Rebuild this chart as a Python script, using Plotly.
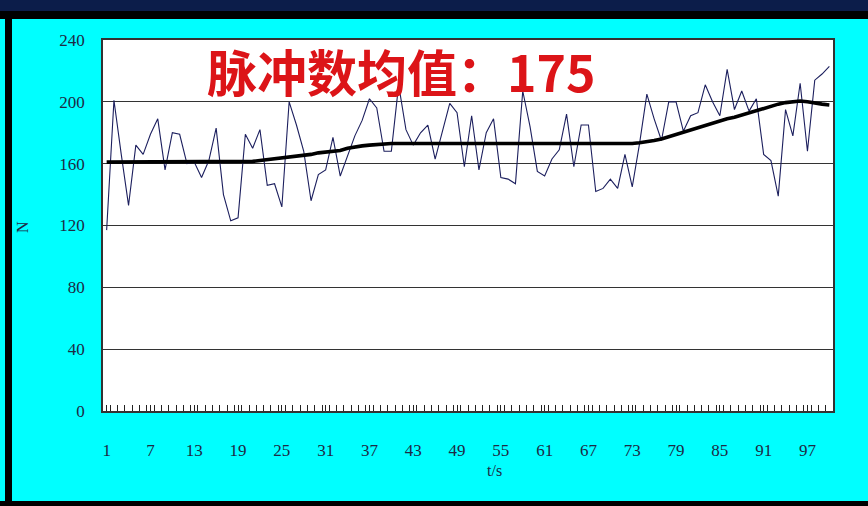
import plotly.graph_objects as go

t_seconds = list(range(1, 101))

pulse_counts = [
    117, 201, 166, 133, 172, 166, 179, 189, 156, 180,
    179, 160, 161, 151, 162, 183, 140, 123, 125, 179,
    170, 182, 146, 147, 132, 200, 185, 168, 136, 153,
    156, 177, 152, 165, 178, 188, 202, 196, 168, 168,
    211, 182, 172, 180, 185, 163, 182, 199, 193, 158,
    191, 156, 180, 189, 151, 150, 147, 207, 184, 155,
    152, 163, 169, 192, 158, 185, 185, 142, 144, 150,
    144, 166, 145, 173, 205, 189, 175, 200, 200, 181,
    191, 193, 211, 200, 191, 221, 195, 207, 194, 202,
    166, 162, 139, 195, 178, 212, 168, 214, 218, 223,
]

trend_values = [
    161, 161, 161, 161, 161, 161, 161, 161, 161, 161,
    161, 161, 161, 161, 161, 161, 161, 161, 161, 161,
    161.5, 162, 162.5, 163, 163.5, 164, 164.5, 165.5, 166, 167,
    167.5, 168, 168.5, 170, 171, 171.5, 172, 172.5, 173, 173,
    173, 173, 173, 173, 173, 173, 173, 173, 173, 173,
    173, 173, 173, 173, 173, 173, 173, 172.5, 172.5, 172.5,
    172.5, 172.5, 172.5, 172.5, 172.5, 172.5, 172.5, 172.5, 172.5, 172.5,
    172.5, 172.5, 173, 173.5, 174, 175, 176, 177.5, 179, 180.5,
    182, 183.5, 185, 186, 187.5, 189, 190, 191.5, 192.5, 194,
    195.5, 197, 198.5, 199.5, 200, 200.5, 200, 199, 198.5, 198,
]

x_tick_values = [1, 7, 13, 19, 25, 31, 37, 43, 49, 55, 61, 67, 73, 79, 85, 91, 97]
y_tick_values = [0, 40, 80, 120, 160, 200, 240]

title_text = "脉冲数均值：175"
x_title = "t/s"
y_title = "N"

W, H = 868, 506
L, R, T, B = 103, 833, 40, 411


def px(x):
    return (x - L) / (R - L)


def py(y):
    return (B - y) / (B - T)


fig = go.Figure()
fig.add_trace(go.Scatter(
    x=t_seconds, y=pulse_counts, mode="lines",
    line=dict(color="#1c1f5e", width=1.1), hoverinfo="skip", showlegend=False,
))
fig.add_trace(go.Scatter(
    x=t_seconds, y=trend_values, mode="lines",
    line=dict(color="#000000", width=3.6), hoverinfo="skip", showlegend=False,
))

tick_font = dict(family="Liberation Serif, DejaVu Serif, serif", size=17, color="#1e2a44")

fig.update_layout(
    width=W, height=H, autosize=False,
    margin=dict(l=L, r=W - R, t=T, b=H - B, pad=0),
    paper_bgcolor="#00ffff",
    plot_bgcolor="#ffffff",
    showlegend=False,
    xaxis=dict(
        range=[0.5, 100.5], tickvals=x_tick_values,
        ticktext=[str(v) for v in x_tick_values],
        ticks="inside", ticklen=6, tickwidth=1, tickcolor="#222222",
        minor=dict(ticks="inside", dtick=1, tick0=0.5, ticklen=6, tickwidth=1, tickcolor="#222222"),
        showgrid=False, zeroline=False,
        showline=True, linecolor="#333333", linewidth=1.5, mirror=True,
        tickfont=tick_font, ticklabelstandoff=23,
    ),
    yaxis=dict(
        range=[0, 240], tickvals=y_tick_values,
        showgrid=True, gridcolor="#333333", gridwidth=1.2,
        zeroline=False, ticks="",
        showline=True, linecolor="#333333", linewidth=1.5, mirror=True,
        tickfont=tick_font, ticklabelstandoff=13,
    ),
)

shapes = [
    dict(type="rect", xref="paper", yref="paper", x0=px(0), x1=px(W), y0=py(0), y1=py(11),
         fillcolor="#0c1d4a", line=dict(width=0), layer="below"),
    dict(type="rect", xref="paper", yref="paper", x0=px(0), x1=px(W), y0=py(11), y1=py(19),
         fillcolor="#000000", line=dict(width=0), layer="below"),
    dict(type="rect", xref="paper", yref="paper", x0=px(5), x1=px(12), y0=py(11), y1=py(H),
         fillcolor="#000000", line=dict(width=0), layer="below"),
    dict(type="rect", xref="paper", yref="paper", x0=px(0), x1=px(W), y0=py(501), y1=py(H),
         fillcolor="#000000", line=dict(width=0), layer="below"),
]
fig.update_layout(shapes=shapes)

fig.add_annotation(
    text=title_text, xref="paper", yref="paper", x=px(205), y=py(70),
    xanchor="left", yanchor="middle", showarrow=False,
    font=dict(family="Noto Sans CJK SC, sans-serif", size=50, color="#dc1418", weight="bold"),
)
fig.add_annotation(
    text=x_title, xref="paper", yref="paper", x=px(494), y=py(470),
    xanchor="center", yanchor="middle", showarrow=False,
    font=dict(family="Liberation Serif, DejaVu Serif, serif", size=16, color="#1e2a44"),
)
fig.add_annotation(
    text=y_title, xref="paper", yref="paper", x=px(22), y=py(227),
    xanchor="center", yanchor="middle", showarrow=False, textangle=-90,
    font=dict(family="Liberation Serif, DejaVu Serif, serif", size=16, color="#1e2a44"),
)

fig.write_html(
    "out.html",
    config={"displayModeBar": False},
    post_script="document.body.style.margin='0';document.body.style.overflow='hidden';",
)
